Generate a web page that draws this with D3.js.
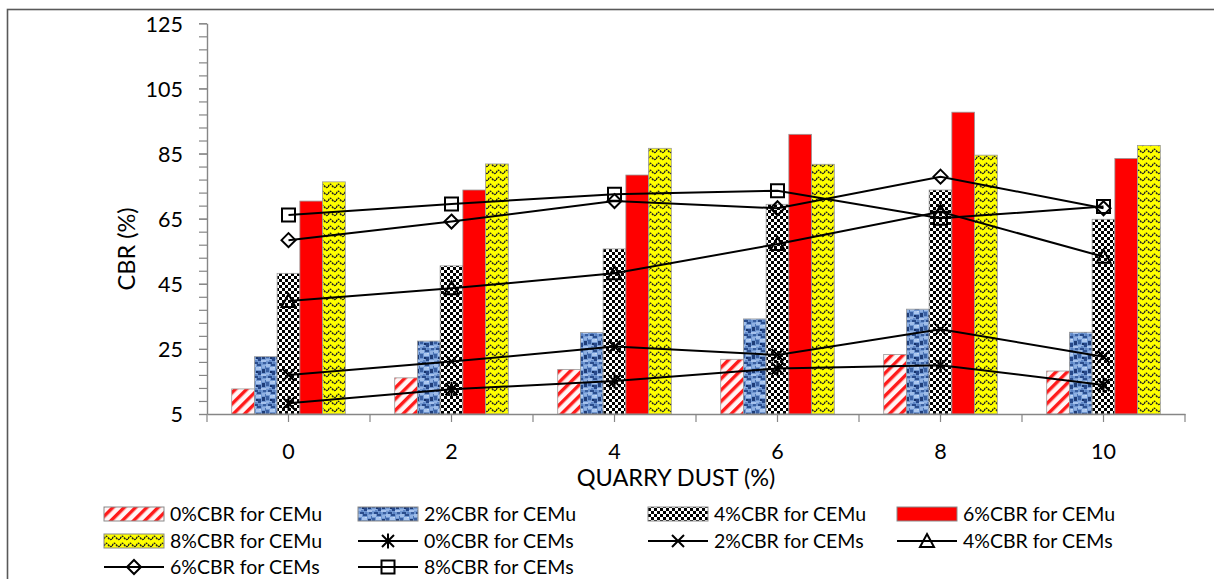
<!DOCTYPE html>
<html><head><meta charset="utf-8">
<script src="https://cdn.jsdelivr.net/npm/d3@7"></script>
<style>
body{margin:0;background:#fff}
svg{display:block}
text{font-family:Lato,"Open Sans",sans-serif;fill:#000}
</style>
</head><body>
<svg id="c" width="1214" height="579"></svg>
<script>
// ---- data ----
const categories = ["0","2","4","6","8","10"];
const barSeries = ["0%CBR for CEMu","2%CBR for CEMu","4%CBR for CEMu","6%CBR for CEMu","8%CBR for CEMu"];
const cemu0 = [12.7,16.1,18.7,21.8,23.3,18.2];
const cemu2 = [22.6,27.4,30.0,34.2,37.2,30.1];
const cemu4 = [48.2,50.5,55.7,69.4,73.8,64.8];
const cemu6 = [70.4,73.8,78.4,90.9,97.7,83.5];
const cemu8 = [76.3,81.8,86.6,81.7,84.5,87.5];
const lineSeries = ["0%CBR for CEMs","2%CBR for CEMs","4%CBR for CEMs","6%CBR for CEMs","8%CBR for CEMs"];
const cems0 = [8.3,12.6,15.1,19.0,20.0,13.9];
const cems2 = [17.0,21.1,25.7,23.1,31.0,22.6];
const cems4 = [39.7,43.6,48.2,57.2,67.1,53.3];
const cems6 = [58.4,64.1,70.4,68.2,77.9,68.2];
const cems8 = [66.1,69.5,72.5,73.6,65.1,68.7];
const yTicks = [5,25,45,65,85,105,125];
const yTitle = "CBR (%)";
const xTitle = "QUARRY DUST (%)";

const barValues = [cemu0,cemu2,cemu4,cemu6,cemu8];
const lineValues = [cems0,cems2,cems4,cems6,cems8];

const svg = d3.select("#c");
const defs = svg.append("defs");

// ---- patterns ----
const pRed = defs.append("pattern").attr("id","p0").attr("patternUnits","userSpaceOnUse")
  .attr("width",8).attr("height",8).attr("patternTransform","rotate(45)");
pRed.append("rect").attr("width",8).attr("height",8).attr("fill","#fff6f6");
pRed.append("rect").attr("width",3.4).attr("height",8).attr("fill","#ff1a1a");

const pBlue = defs.append("pattern").attr("id","p1").attr("patternUnits","userSpaceOnUse")
  .attr("width",14).attr("height",14);
pBlue.append("rect").attr("width",14).attr("height",14).attr("fill","#7097d2");
[[0,0,4,3,"#9fbde9"],[5,0,4,2,"#2c4f8f"],[10,1,4,3,"#8fb0e2"],[0,4,3,4,"#3a60a3"],
 [4,3,5,3,"#aac6ef"],[10,5,3,4,"#1f3d78"],[0,9,5,2,"#93b3e4"],[6,7,3,4,"#274889"],
 [9,10,5,2,"#a6c2ed"],[2,12,4,2,"#2a4c8c"],[7,12,2,2,"#5b83c4"],[11,12,3,2,"#3a5fa0"],
 [4,7,2,2,"#16326a"],[7,3,2,1,"#c4d8f5"],[13,2,1,3,"#4a72b3"],[3,10,2,2,"#5f86c6"]]
 .forEach(r=>pBlue.append("rect").attr("x",r[0]).attr("y",r[1]).attr("width",r[2]).attr("height",r[3]).attr("fill",r[4]));

const pChk = defs.append("pattern").attr("id","p2").attr("patternUnits","userSpaceOnUse")
  .attr("width",6).attr("height",6);
pChk.append("rect").attr("width",6).attr("height",6).attr("fill","#fff");
pChk.append("rect").attr("width",3).attr("height",3).attr("fill","#000");
pChk.append("rect").attr("x",3).attr("y",3).attr("width",3).attr("height",3).attr("fill","#000");

const solidRed = "#ff0000";

const pYel = defs.append("pattern").attr("id","p4").attr("patternUnits","userSpaceOnUse")
  .attr("width",8).attr("height",7);
pYel.append("rect").attr("width",8).attr("height",7).attr("fill","#ffff00");
pYel.append("path").attr("d","M0,5 Q2,0.5 4,3.5 T8,5").attr("fill","none")
  .attr("stroke","#222").attr("stroke-width",1.4).attr("stroke-dasharray","2 0.8");

const fills = ["url(#p0)","url(#p1)","url(#p2)",solidRed,"url(#p4)"];

// ---- outer border ----
svg.append("rect").attr("x",7.5).attr("y",9.5).attr("width",1400).attr("height",800)
  .attr("fill","none").attr("stroke","#595959").attr("stroke-width",1.6);

// ---- scales ----
const x0 = d3.scaleBand().domain(categories).range([207,1185]).padding(0);
const bw = x0.bandwidth();
const x1 = d3.scaleBand().domain(barSeries).range([bw*0.1515, bw*0.8485]).padding(0);
const y = d3.scaleLinear().domain([5,125]).range([414,23.3]);

const axisColor = "#868686";

// ---- y axis ----
const yMinor = svg.append("g").attr("transform","translate(207,0)")
  .call(d3.axisLeft(y).tickValues(d3.range(5,126,4)).tickSize(8).tickFormat(""));
yMinor.select(".domain").remove();
yMinor.selectAll("line").attr("stroke",axisColor).attr("stroke-width",1.2);
const yAx = svg.append("g").attr("transform","translate(207,0)")
  .call(d3.axisLeft(y).tickValues(yTicks).tickSize(8).tickPadding(16).tickSizeOuter(0));
yAx.select(".domain").attr("stroke",axisColor).attr("stroke-width",1.4);
yAx.selectAll("line").attr("stroke",axisColor).attr("stroke-width",1.2);
yAx.selectAll("text").attr("font-size",21.5).attr("font-family","Lato").attr("fill","#000").attr("dy","0.36em");

// ---- bars ----
barSeries.forEach((s,si)=>{
  svg.append("g").selectAll("rect").data(barValues[si]).join("rect")
    .attr("x",(d,i)=>x0(categories[i])+x1(s))
    .attr("width",x1.bandwidth())
    .attr("y",d=>y(d))
    .attr("height",d=>y(5)-y(d))
    .attr("fill",fills[si])
    .attr("stroke","#9a9a9a").attr("stroke-width",0.8);
});

// ---- x axis ----
const xAx = svg.append("g").attr("transform","translate(0,414)")
  .call(d3.axisBottom(x0).tickSize(0).tickPadding(30));
xAx.select(".domain").attr("stroke",axisColor).attr("stroke-width",1.4);
xAx.selectAll("text").attr("font-size",21.5).attr("font-family","Lato").attr("fill","#000");
const halfTicks = [];
categories.forEach(c=>{halfTicks.push(x0(c)); halfTicks.push(x0(c)+bw/2);});
halfTicks.push(x0.range()[1]);
svg.append("g").selectAll("line").data(halfTicks).join("line")
  .attr("x1",d=>d).attr("x2",d=>d).attr("y1",414).attr("y2",422)
  .attr("stroke",axisColor).attr("stroke-width",1.2);

// ---- markers ----
const markerPaths = [
  "M-6,-6L6,6M6,-6L-6,6M0,-7.5L0,7.5",
  "M-6,-6L6,6M6,-6L-6,6",
  "M0,-7L7,6L-7,6Z",
  "M0,-7L7,0L0,7L-7,0Z",
  "M-6.5,-6.5H6.5V6.5H-6.5Z"
];

// ---- lines ----
const line = d3.line().x((d,i)=>x0(categories[i])+bw/2).y(d=>y(d));
lineSeries.forEach((s,si)=>{
  svg.append("path").datum(lineValues[si]).attr("d",line)
    .attr("fill","none").attr("stroke","#000").attr("stroke-width",2);
  svg.append("g").selectAll("path").data(lineValues[si]).join("path")
    .attr("transform",(d,i)=>`translate(${x0(categories[i])+bw/2},${y(d)})`)
    .attr("d",markerPaths[si]).attr("fill","none").attr("stroke","#000").attr("stroke-width",2);
});

// ---- titles ----
svg.append("text").attr("transform","translate(135,249) rotate(-90)")
  .attr("text-anchor","middle").attr("font-size",23.5).text(yTitle);
svg.append("text").attr("x",676).attr("y",486)
  .attr("text-anchor","middle").attr("font-size",23.5).text(xTitle);

// ---- legend ----
const legendItems = barSeries.map((s,i)=>({name:s,type:"bar",idx:i}))
  .concat(lineSeries.map((s,i)=>({name:s,type:"line",idx:i})));
const colX = [104,358,648,897];
const rowY = [514,541,567];
legendItems.forEach((it,k)=>{
  const cx = colX[k%4], cy = rowY[Math.floor(k/4)];
  const g = svg.append("g").attr("transform",`translate(${cx},${cy})`);
  if(it.type==="bar"){
    g.append("rect").attr("x",0).attr("y",-7).attr("width",60).attr("height",14)
      .attr("fill",fills[it.idx]).attr("stroke","#8a8a8a").attr("stroke-width",1);
  } else {
    g.append("line").attr("x1",0).attr("x2",60).attr("y1",0).attr("y2",0)
      .attr("stroke","#000").attr("stroke-width",2);
    g.append("path").attr("transform","translate(30,0)").attr("d",markerPaths[it.idx])
      .attr("fill","none").attr("stroke","#000").attr("stroke-width",2);
  }
  g.append("text").attr("x",66).attr("y",0).attr("dy","0.36em")
    .attr("font-size",19.5).text(it.name);
});
</script>
</body></html>
